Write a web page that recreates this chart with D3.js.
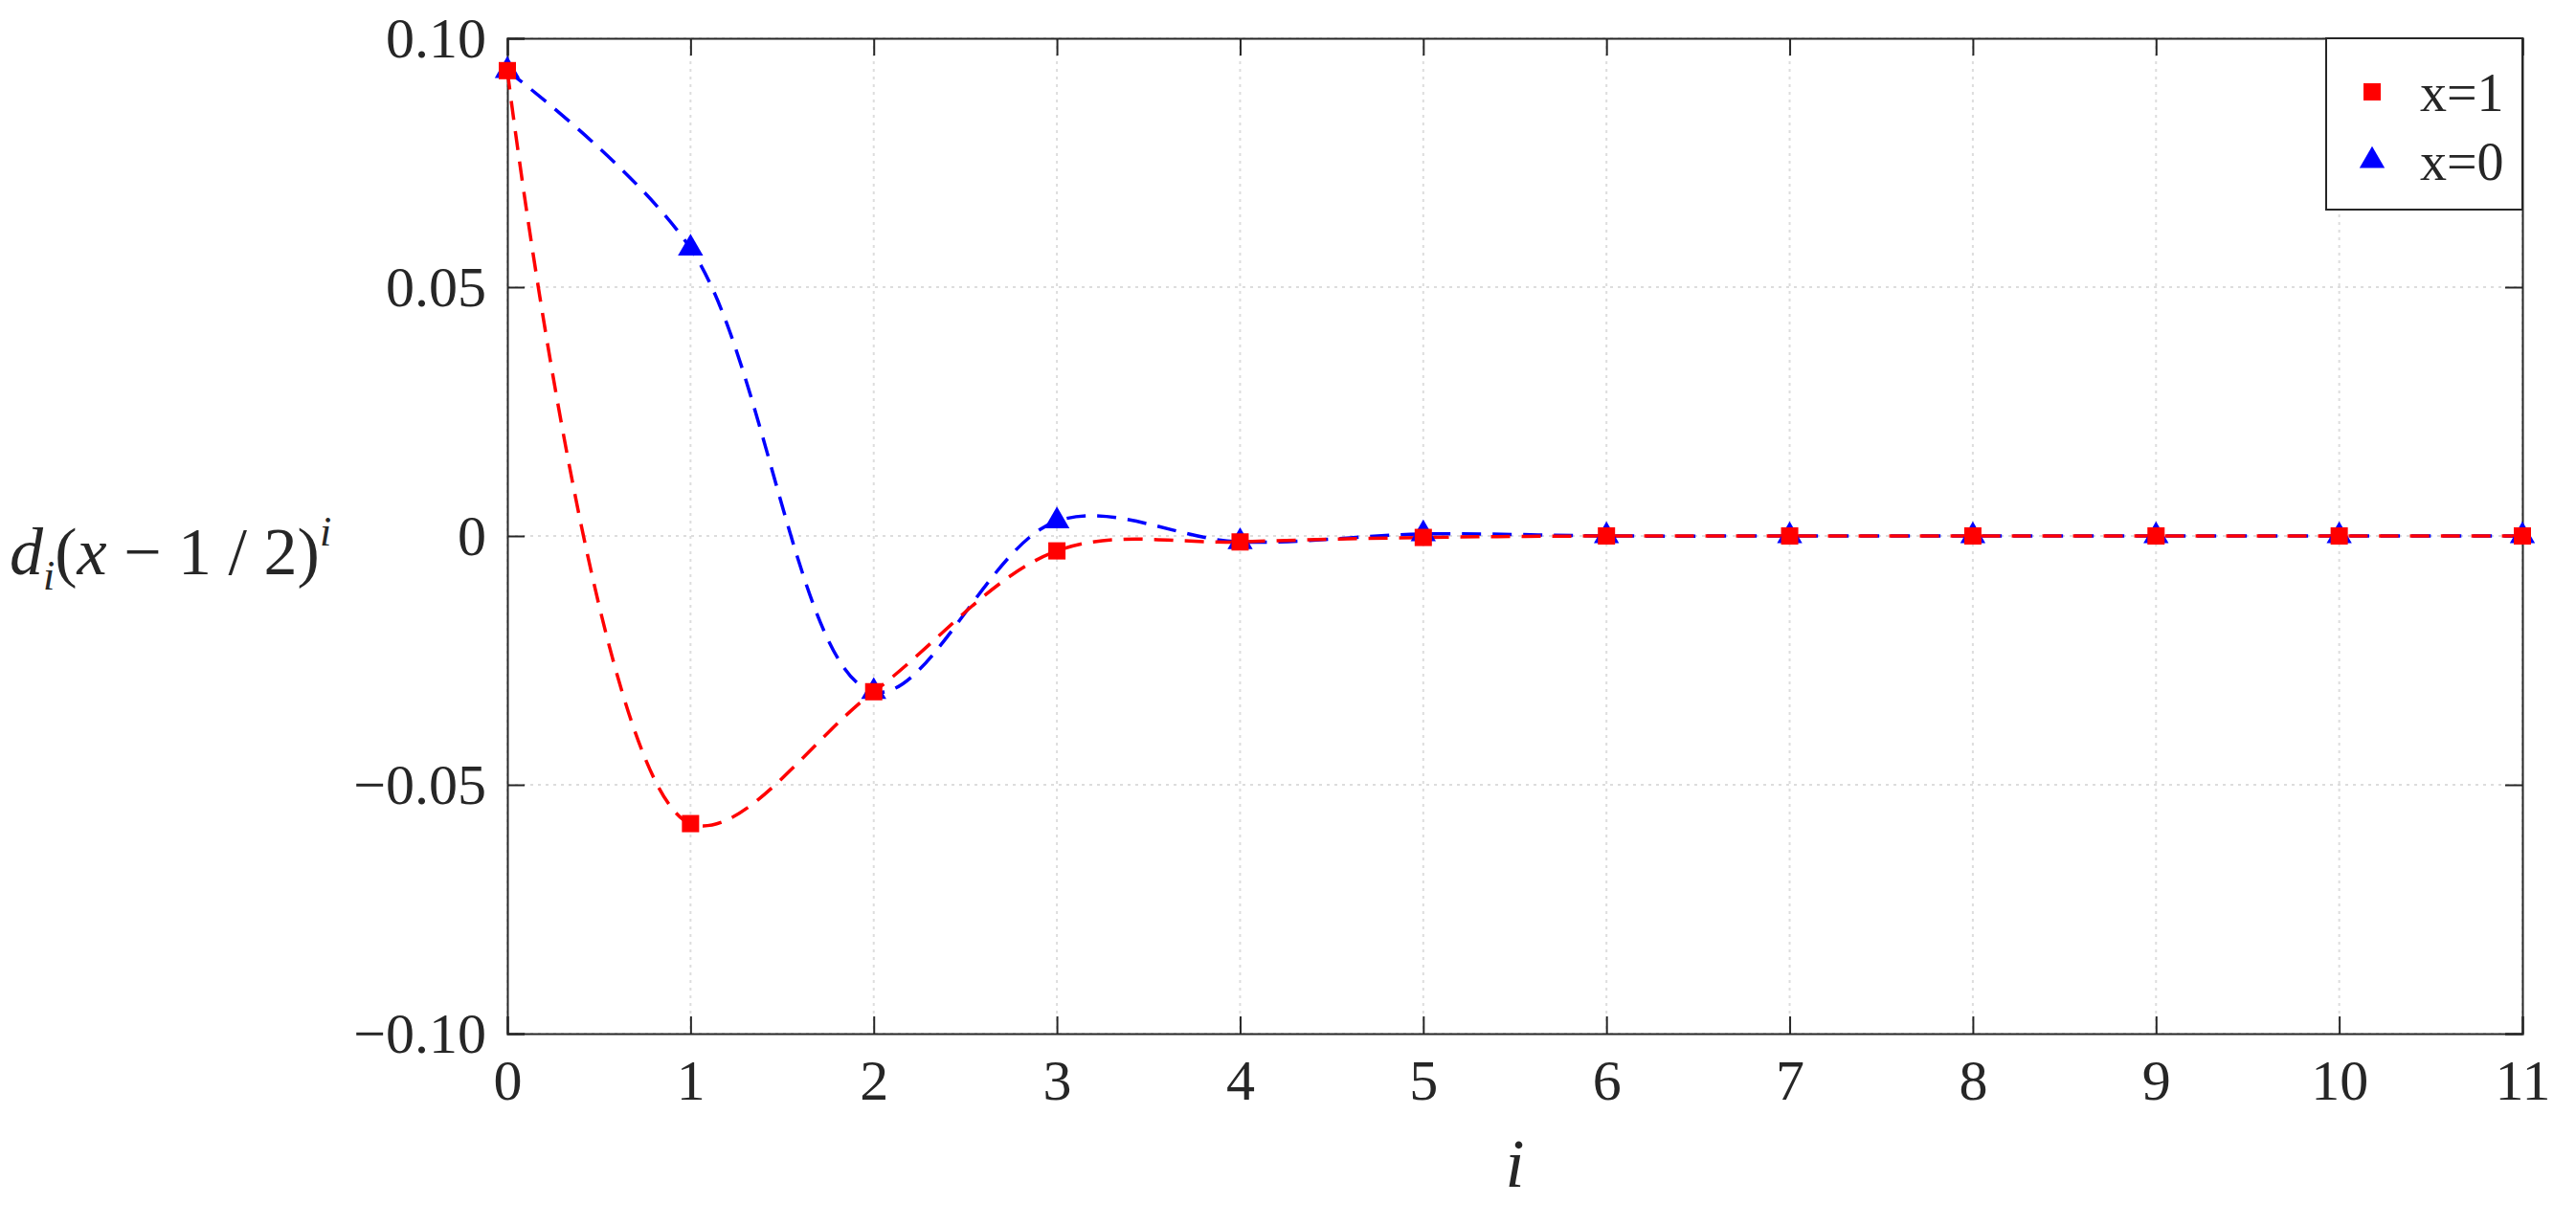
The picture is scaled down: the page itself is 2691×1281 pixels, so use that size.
<!DOCTYPE html>
<html><head><meta charset="utf-8">
<script src="https://cdn.jsdelivr.net/npm/d3@7"></script>
<style>body{margin:0;background:#fff}svg{display:block}text{font-family:"Liberation Serif",serif;fill:#262626}</style>
</head><body><svg id="c" width="2691" height="1281"></svg>
<script>
var idx = [0,1,2,3,4,5,6,7,8,9,10,11];
var x1Vals = [0.0935,-0.0578,-0.0313,-0.0030,-0.0012,-0.0003,0,0,0,0,0,0];
var x0Vals = [0.0935,0.0578,-0.0313,0.0030,-0.0012,0.0004,0,0,0,0,0,0];
var yTicks = [-0.10,-0.05,0,0.05,0.10];
var yTickLabels = ["\u22120.10","\u22120.05","0","0.05","0.10"];

var svg = d3.select('#c');
var m = {left:530,right:2635,top:40,bottom:1080};
var x = d3.scaleLinear().domain([0,11]).range([m.left,m.right]);
var y = d3.scaleLinear().domain([-0.1,0.1]).range([m.bottom,m.top]);

// grid
var g = svg.append('g');
g.selectAll('.gx').data(idx).enter().append('line')
	.attr('x1',d=>x(d)).attr('x2',d=>x(d)).attr('y1',m.top).attr('y2',m.bottom)
	.attr('stroke','#ddd').attr('stroke-width',2).attr('stroke-dasharray','3,5');
g.selectAll('.gy').data(yTicks).enter().append('line')
	.attr('y1',d=>y(d)).attr('y2',d=>y(d)).attr('x1',m.left).attr('x2',m.right)
	.attr('stroke','#ddd').attr('stroke-width',2).attr('stroke-dasharray','3,5');

// axes
var ax = svg.append('g').attr('transform','translate(0,'+m.bottom+')')
	.call(d3.axisBottom(x).tickValues(idx).tickSize(-18).tickPadding(26));
var axT = svg.append('g').attr('transform','translate(0,'+m.top+')')
	.call(d3.axisTop(x).tickValues(idx).tickSize(-18).tickFormat(''));
var ay = svg.append('g').attr('transform','translate('+m.left+',0)')
	.call(d3.axisLeft(y).tickValues(yTicks).tickSize(-18).tickPadding(22).tickFormat((d,i)=>yTickLabels[i]));
var ayR = svg.append('g').attr('transform','translate('+m.right+',0)')
	.call(d3.axisRight(y).tickValues(yTicks).tickSize(-18).tickFormat(''));
[ax,axT,ay,ayR].forEach(function(a){
	a.selectAll('path,line').attr('stroke','#262626').attr('stroke-width',2);
	a.selectAll('text').attr('font-size',60).attr('font-family','Liberation Serif').attr('fill','#262626');
});

// lines
var line = d3.line().x((d,i)=>x(idx[i])).y(d=>y(d)).curve(d3.curveCatmullRom.alpha(0.5));
svg.append('path').attr('d',line(x0Vals)).attr('fill','none').attr('stroke','#0000ff')
	.attr('stroke-width',3.5).attr('stroke-dasharray','20,12');
svg.append('path').attr('d',line(x1Vals)).attr('fill','none').attr('stroke','#ff0000')
	.attr('stroke-width',3.5).attr('stroke-dasharray','20,12');

// markers
var tri = d3.symbol().type(d3.symbolTriangle).size(300);
svg.selectAll('.t').data(x0Vals).enter().append('path').attr('d',tri)
	.attr('transform',(d,i)=>'translate('+x(idx[i])+','+y(d)+')').attr('fill','#0000ff');
svg.selectAll('.s').data(x1Vals).enter().append('rect')
	.attr('x',(d,i)=>x(idx[i])-9).attr('y',d=>y(d)-9).attr('width',18).attr('height',18).attr('fill','#ff0000');

// legend
var lg = svg.append('g');
lg.append('rect').attr('x',2430).attr('y',40).attr('width',205).attr('height',179)
	.attr('fill','#fff').attr('stroke','#262626').attr('stroke-width',2);
lg.append('rect').attr('x',2478-9).attr('y',96-9).attr('width',18).attr('height',18).attr('fill','#ff0000');
lg.append('path').attr('d',tri).attr('transform','translate(2478,168)').attr('fill','#0000ff');
lg.append('text').attr('x',2528).attr('y',116).attr('font-size',56).text('x=1');
lg.append('text').attr('x',2528).attr('y',188).attr('font-size',56).text('x=0');

// axis titles
svg.append('text').attr('x',(m.left+m.right)/2).attr('y',1240).attr('text-anchor','middle')
	.attr('font-size',72).attr('font-style','italic').text('i');
var yl = svg.append('text').attr('x',10).attr('y',600).attr('font-size',70);
yl.append('tspan').attr('font-style','italic').text('d');
yl.append('tspan').attr('font-style','italic').attr('font-size',44).attr('dy',16).text('i');
yl.append('tspan').attr('dy',-16).text('(');
yl.append('tspan').attr('font-style','italic').text('x');
yl.append('tspan').text(' \u2212 1 / 2)');
yl.append('tspan').attr('font-style','italic').attr('font-size',44).attr('dy',-30).text('i');
</script></body></html>
